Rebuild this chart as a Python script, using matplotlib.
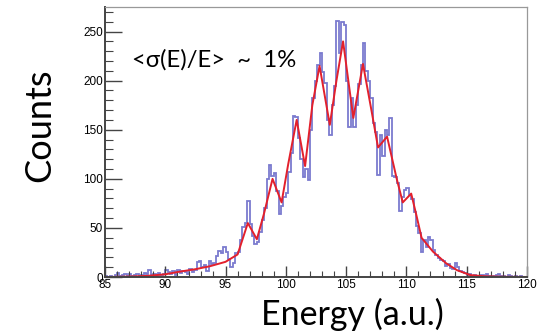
import numpy as np
import matplotlib
matplotlib.use("Agg")
import matplotlib.pyplot as plt
from matplotlib.ticker import MultipleLocator

# Histogram: 0.2-wide energy bins starting at 85.0
e_min = 85.0
bin_width = 0.2
counts = [
    1, 0, 1, 0, 2, 4, 1, 2, 3, 1,          # 85.0 - 87.0
    3, 1, 2, 3, 1, 2, 4, 3, 7, 2,          # 87.0 - 89.0
    3, 1, 4, 2, 3, 7, 5, 3, 6, 2,          # 89.0 - 91.0
    7, 4, 6, 5, 3, 8, 5, 7, 15, 16,        # 91.0 - 93.0
    10, 12, 6, 16, 13, 14, 21, 27, 24, 31, # 93.0 - 95.0
    26, 18, 10, 14, 24, 26, 38, 51, 55, 77,   # 95.0 - 97.0
    54, 42, 34, 36, 46, 58, 70, 100, 114, 103,  # 97.0 - 99.0
    106, 88, 64, 72, 82, 86, 107, 126, 164, 163,  # 99.0 - 101.0
    142, 120, 102, 110, 99, 150, 182, 200, 216, 228,  # 101.0 - 103.0
    209, 198, 160, 145, 175, 195, 261, 228, 260, 257,  # 103.0 - 105.0
    200, 153, 182, 153, 175, 197, 216, 238, 210, 200,  # 105.0 - 107.0
    182, 157, 148, 104, 145, 123, 150, 145, 162, 103,  # 107.0 - 109.0
    102, 96, 67, 82, 89, 91, 84, 79, 66, 52,  # 109.0 - 111.0
    45, 26, 38, 31, 41, 38, 28, 22, 19, 17,   # 111.0 - 113.0
    16, 11, 13, 9, 8, 14, 10, 6, 5, 4,       # 113.0 - 115.0
    2, 3, 1, 2, 1, 1, 2, 1, 3, 1,            # 115.0 - 117.0
    0, 1, 2, 3, 1, 1, 0, 2, 1, 0,            # 117.0 - 119.0
    1, 0, 1, 0, 0,                           # 119.0 - 120.0
]

# Fitted response curve (knots of the polyline)
fit_energy = [85.0, 87.0, 88.5, 90.0, 91.2, 92.5, 93.7, 95.0, 95.6, 96.0,
              96.4, 96.85, 97.6, 98.2, 98.9, 99.65, 100.2, 100.9, 101.6, 102.2,
              102.8, 103.65, 104.2, 104.75, 105.6, 106.4, 107.1, 107.65, 108.4, 109.2,
              109.7, 110.4, 110.85, 111.26, 112.2, 113.3, 114.2, 115.3, 116.5, 118.0,
              120.0]
fit_counts = [0.0, 0.5, 1.2, 2.8, 5.5, 8.0, 11.0, 15.5, 20.0, 23.0,
              38.0, 55.0, 38.5, 65.0, 100.0, 76.0, 115.0, 160.0, 113.0, 175.0,
              215.0, 155.0, 200.0, 240.0, 162.0, 217.0, 170.0, 132.0, 143.0, 100.0,
              76.0, 85.0, 62.0, 40.0, 26.0, 14.0, 7.0, 2.0, 0.8, 0.3,
              0.1]

x_ticks = [85, 90, 95, 100, 105, 110, 115, 120]
y_ticks = [0, 50, 100, 150, 200, 250]

edges = e_min + bin_width * np.arange(len(counts) + 1)

fig = plt.figure(figsize=(5.41, 3.33), dpi=100)
ax = fig.add_axes([0.194, 0.168, 0.780, 0.811])

ax.stairs(counts, edges, color="#6c6cc9", linewidth=1.3, alpha=0.9)
ax.plot(fit_energy, fit_counts, color="#e3202c", linewidth=1.4)

ax.set_xlim(85, 120)
ax.set_ylim(0, 275)

ax.set_xticks(x_ticks)
ax.set_yticks(y_ticks)
ax.xaxis.set_minor_locator(MultipleLocator(1))
ax.yaxis.set_minor_locator(MultipleLocator(10))

tick_font = dict(family="Liberation Sans", size=8.5)
ax.set_xticklabels([str(t) for t in x_ticks], **tick_font)
ax.set_yticklabels([str(t) for t in y_ticks], **tick_font)

ax.tick_params(axis="both", which="both", direction="in", colors="#444444",
               labelcolor="black")
ax.tick_params(axis="x", which="major", length=8, width=1.0, pad=1.5)
ax.tick_params(axis="x", which="minor", length=4, width=0.8)
ax.tick_params(axis="y", which="major", length=12, width=1.0, pad=1.5)
ax.tick_params(axis="y", which="minor", length=6, width=0.8)

for side in ("left", "bottom"):
    ax.spines[side].set_color("#444444")
    ax.spines[side].set_linewidth(1.4)
for side in ("top", "right"):
    ax.spines[side].set_color("#999999")
    ax.spines[side].set_linewidth(0.9)

label_font = dict(family=["Lato", "DejaVu Sans"], color="black")
fig.text(0.074, 0.625, "Counts", rotation=90, ha="center", va="center",
         fontsize=26, **label_font)
fig.text(0.652, 0.055, "Energy (a.u.)", ha="center", va="center",
         fontsize=24.5, **label_font)
ax.text(0.064, 0.805, "<\u03c3(E)/E>  ~  1%", transform=ax.transAxes,
        ha="left", va="center", fontsize=17.2, **label_font)

fig.savefig("out.png", dpi=100)
